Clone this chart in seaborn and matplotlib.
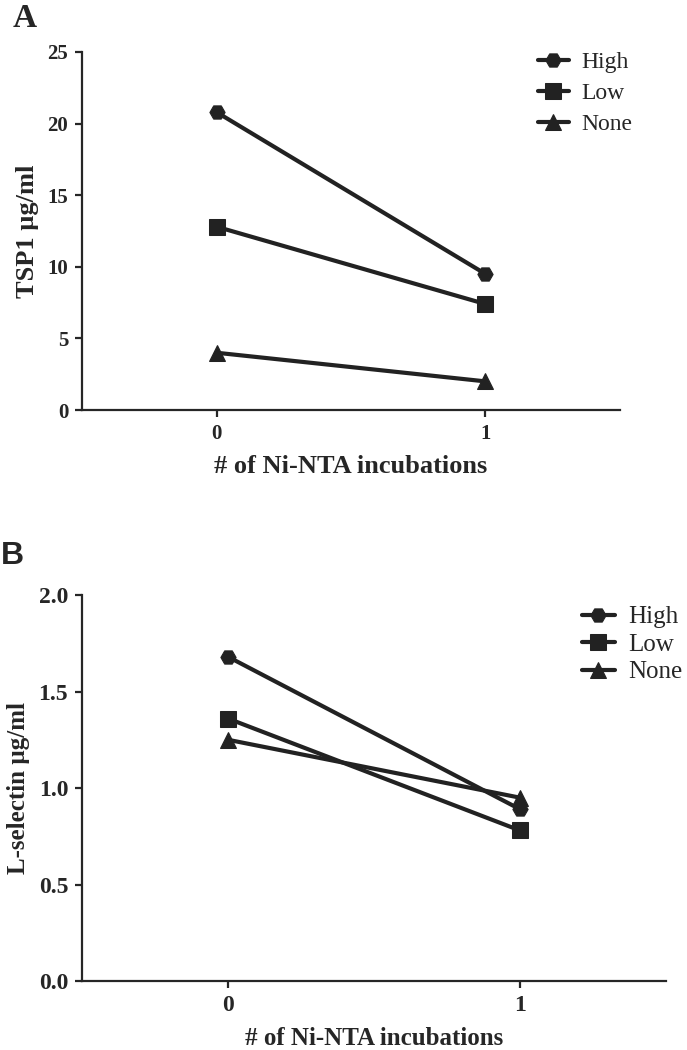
import seaborn as sns
import matplotlib.pyplot as plt
import pandas as pd

# values
groups = ['High', 'Low', 'None']
incubations = [0, 1]
tsp1 = {'High': [20.8, 9.5], 'Low': [12.8, 7.4], 'None': [4.0, 2.0]}
lsel = {'High': [1.68, 0.89], 'Low': [1.36, 0.78], 'None': [1.25, 0.95]}

markers = {'High': 'H', 'Low': 's', 'None': '^'}
ink = '#222222'


def long_form(d):
    rows = []
    for g in groups:
        for x, y in zip(incubations, d[g]):
            rows.append([g, x, y])
    return pd.DataFrame(rows, columns=['group', 'x', 'y'])


sns.set_style('ticks')
plt.rcParams['font.family'] = ['Liberation Serif', 'DejaVu Serif']
plt.rcParams['axes.linewidth'] = 1.6
plt.rcParams['xtick.major.width'] = 1.6
plt.rcParams['ytick.major.width'] = 1.6
plt.rcParams['xtick.major.size'] = 5
plt.rcParams['ytick.major.size'] = 5

fig = plt.figure(figsize=(6.87, 10.5), dpi=100)
axA = fig.add_axes([0.1194, 0.6095, 0.783, 0.341])
axB = fig.add_axes([0.1194, 0.0657, 0.850, 0.3676])


def draw(ax, d, ylabel, ylim, yticks, ytl, tsize, lsize, legsize, leg_anchor, leg_space):
    sns.lineplot(data=long_form(d), x='x', y='y', style='group', markers=markers,
                 dashes=False, color=ink, linewidth=3, markersize=11,
                 markeredgecolor=ink, ax=ax)
    ax.set_xlim(-0.5, 1.5)
    ax.set_ylim(*ylim)
    ax.set_xticks(incubations)
    ax.set_yticks(yticks)
    ax.set_yticklabels(ytl)
    ax.tick_params(labelsize=tsize, pad=5)
    for lab in ax.get_xticklabels() + ax.get_yticklabels():
        lab.set_fontweight('bold')
    ax.set_xlabel('# of Ni-NTA incubations', fontsize=lsize, fontweight='bold', labelpad=8)
    ax.set_ylabel(ylabel, fontsize=lsize, fontweight='bold', labelpad=6)
    sns.despine(ax=ax)
    sns.move_legend(ax, 'upper left', bbox_to_anchor=leg_anchor, frameon=False,
                    title=None, prop={'family': 'Liberation Serif', 'size': legsize},
                    handlelength=1.3, handletextpad=0.55, labelspacing=leg_space)


draw(axA, tsp1, 'TSP1 µg/ml', (0, 25), [0, 5, 10, 15, 20, 25],
     ['0', '5', '10', '15', '20', '25'], 15, 19, 17, (0.808, 1.06), 0.4)
draw(axB, lsel, 'L-selectin µg/ml', (0, 2), [0, 0.5, 1.0, 1.5, 2.0],
     ['0.0', '0.5', '1.0', '1.5', '2.0'], 17, 18, 18, (0.818, 1.03), 0.2)

fig.text(0.019, 0.974, 'A', fontsize=24, fontweight='bold', family='Liberation Serif')
fig.text(0.002, 0.463, 'B', fontsize=23, fontweight='bold', family='Liberation Sans')

fig.savefig('out.png', dpi=100)
